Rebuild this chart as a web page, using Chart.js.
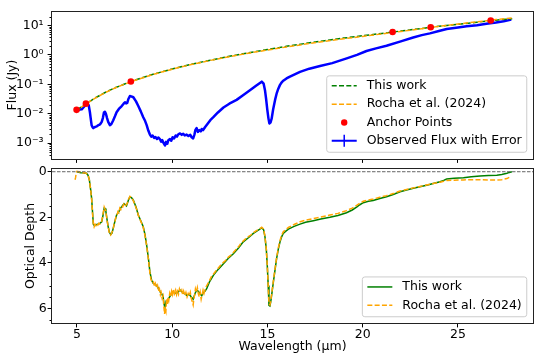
<!DOCTYPE html>
<html><head><meta charset="utf-8">
<script src="https://cdn.jsdelivr.net/npm/chart.js@4.4.1/dist/chart.umd.min.js"></script>
<style>
html,body{margin:0;padding:0;background:#fff;width:540px;height:360px;overflow:hidden}
#c1{position:absolute;left:0;top:0}
#c2{position:absolute;left:0;top:160px}
</style></head><body>
<canvas id="c1" width="540" height="170"></canvas>
<canvas id="c2" width="540" height="200"></canvas>
<script>
// ---------- DATA ----------
const wlTicks = [5, 10, 15, 20, 25];
const fluxTicks = [1e-3, 1e-2, 1e-1, 1, 10];
const fluxTickLabels = ['10⁻³', '10⁻²', '10⁻¹', '10⁰', '10¹'];
const tauTicks = [0, 2, 4, 6];

// continuum (Jy)
const contWl = [4.9,5.0,5.5,6.0,6.5,7.0,7.5,8.0,9.0,10.0,11.0,12.0,13.0,14.0,15.0,16.0,17.0,18.0,19.0,20.0,21.0,22.0,23.0,24.0,25.0,26.0,27.0,27.85];
const contThisWork = [null,0.0135,0.0224,0.0355,0.0537,0.0759,0.102,0.135,0.219,0.331,0.479,0.661,0.891,1.175,1.514,1.95,2.455,3.02,3.715,4.467,5.37,6.457,7.762,9.333,10.96,12.88,15.14,17.0];
const contRocha = [0.0118,0.0133,0.0221,0.035,0.053,0.075,0.101,0.134,0.216,0.326,0.470,0.648,0.870,1.14,1.46,1.86,2.33,2.86,3.52,4.25,5.15,6.25,7.6,9.3,11.2,13.3,15.8,17.9];

// anchor points
const anchorWl = [4.98, 5.47, 7.83, 21.57, 23.57, 26.72];
const anchorFlux = [0.0135, 0.022, 0.125, 6.0, 8.7, 14.8];

// observed flux (Jy)
const obsWl = [4.95,5.05,5.15,5.25,5.35,5.47,5.55,5.62,5.68,5.73,5.77,5.82,5.86,5.92,6.0,6.06,6.12,6.2,6.25,6.3,6.36,6.42,6.47,6.52,6.58,6.64,6.73,6.8,6.9,7.0,7.08,7.2,7.35,7.45,7.52,7.58,7.64,7.7,7.78,7.85,7.96,8.1,8.22,8.35,8.48,8.58,8.66,8.75,8.83,8.9,8.97,9.05,9.12,9.2,9.28,9.36,9.42,9.48,9.55,9.62,9.68,9.74,9.8,9.88,9.95,10.02,10.1,10.18,10.25,10.32,10.41,10.5,10.58,10.66,10.76,10.85,10.95,11.02,11.1,11.17,11.22,11.28,11.35,11.42,11.5,11.55,11.62,11.72,11.85,12.0,12.16,12.4,12.69,13.0,13.38,13.7,14.08,14.4,14.7,14.8,14.87,14.93,14.99,15.05,15.1,15.16,15.22,15.3,15.4,15.48,15.57,15.66,15.75,15.83,16.0,16.18,16.71,17.2,17.76,18.4,19.16,19.7,20.2,20.7,21.25,22.0,22.65,23.1,23.53,24.0,24.41,25.0,25.46,26.0,26.5,27.0,27.4,27.8];
const obsFlux = [0.0126,0.0132,0.0138,0.0141,0.0166,0.0204,0.0214,0.0191,0.0112,0.0063,0.00407,0.00347,0.00324,0.00347,0.00363,0.0038,0.00407,0.00427,0.00468,0.00525,0.00708,0.0112,0.0117,0.01,0.00708,0.00525,0.00407,0.00437,0.00589,0.00832,0.0112,0.0145,0.0182,0.0219,0.0245,0.0224,0.0234,0.0316,0.0398,0.0389,0.0363,0.0263,0.0182,0.012,0.00759,0.00562,0.00407,0.00263,0.00195,0.00166,0.00182,0.00151,0.00162,0.00138,0.00155,0.00135,0.00112,0.00126,0.001,0.00083,0.0011,0.00095,0.00126,0.00138,0.0012,0.00158,0.00145,0.00182,0.00166,0.002,0.00214,0.00191,0.00209,0.00182,0.00195,0.00174,0.00191,0.00158,0.00145,0.002,0.00282,0.00324,0.0024,0.00275,0.00251,0.00302,0.00275,0.00347,0.00447,0.00603,0.00759,0.011,0.0162,0.0219,0.0295,0.0417,0.0631,0.0891,0.123,0.105,0.0631,0.0316,0.0141,0.00708,0.00468,0.00501,0.00676,0.0141,0.0295,0.0479,0.0708,0.0955,0.117,0.132,0.158,0.182,0.263,0.339,0.417,0.525,0.759,1.0,1.35,1.66,2.04,2.88,3.89,4.68,5.37,6.46,7.59,8.51,9.33,10.2,11.5,12.6,13.8,15.8];

// optical depth, this work
const tauWlThis = [5.0,5.1,5.2,5.3,5.4,5.5,5.58,5.65,5.72,5.77,5.82,5.86,5.92,6.0,6.1,6.2,6.3,6.36,6.43,6.48,6.52,6.58,6.64,6.7,6.77,6.84,6.9,7.0,7.08,7.2,7.29,7.38,7.47,7.54,7.6,7.7,7.78,7.87,7.96,8.1,8.22,8.35,8.48,8.57,8.66,8.75,8.83,8.92,9.0,9.1,9.18,9.3,9.38,9.45,9.52,9.58,9.62,9.68,9.74,9.8,9.9,10.05,10.2,10.3,10.41,10.55,10.65,10.76,10.9,11.0,11.1,11.2,11.28,11.37,11.45,11.55,11.65,11.72,11.81,11.95,12.16,12.4,12.69,12.95,13.21,13.48,13.73,14.0,14.26,14.5,14.7,14.8,14.87,14.94,14.99,15.04,15.08,15.13,15.17,15.24,15.31,15.4,15.48,15.57,15.66,15.75,15.83,15.95,16.1,16.4,16.71,17.0,17.41,17.8,18.28,18.7,19.15,19.45,19.68,19.85,20.03,20.3,20.55,20.9,21.25,21.6,21.96,22.3,22.66,23.0,23.36,23.7,24.06,24.25,24.41,24.8,25.29,25.7,26.16,26.6,27.04,27.3,27.57,27.7,27.83];
const tauThis = [0.0,0.02,0.04,0.05,0.06,0.07,0.15,0.35,0.8,1.17,1.8,2.3,2.38,2.33,2.3,2.27,2.2,1.95,1.6,1.62,1.76,2.1,2.42,2.65,2.76,2.7,2.5,2.15,1.9,1.75,1.6,1.5,1.4,1.45,1.5,1.25,1.1,1.15,1.25,1.55,1.9,2.15,2.42,2.75,3.23,3.8,4.4,4.77,4.9,4.95,5.0,5.15,5.3,5.36,5.5,5.85,5.95,5.7,5.75,5.58,5.45,5.29,5.35,5.3,5.2,5.3,5.35,5.43,5.38,5.5,5.6,5.35,5.2,5.25,5.35,5.45,5.3,5.25,5.14,4.85,4.55,4.3,4.04,3.8,3.6,3.35,3.08,2.9,2.71,2.58,2.47,2.55,2.86,3.4,4.11,5.0,5.87,5.9,5.73,5.3,4.85,4.3,3.82,3.4,3.08,2.85,2.71,2.62,2.52,2.4,2.3,2.22,2.15,2.08,2.0,1.92,1.8,1.68,1.55,1.45,1.36,1.3,1.26,1.18,1.1,1.0,0.88,0.8,0.73,0.66,0.59,0.52,0.44,0.38,0.32,0.29,0.26,0.22,0.19,0.17,0.15,0.12,0.07,0.03,0.0];

// optical depth, Rocha et al. (2024)
const tauWlRocha = [4.9,4.93,4.96,5.0,5.1,5.2,5.3,5.4,5.5,5.58,5.65,5.72,5.77,5.82,5.86,5.9,5.95,6.0,6.05,6.1,6.15,6.2,6.25,6.3,6.36,6.43,6.48,6.52,6.58,6.64,6.7,6.77,6.84,6.9,6.95,7.0,7.05,7.1,7.15,7.2,7.25,7.3,7.35,7.4,7.47,7.54,7.6,7.65,7.7,7.78,7.84,7.9,7.96,8.05,8.1,8.16,8.22,8.3,8.35,8.42,8.48,8.57,8.66,8.75,8.83,8.88,8.92,8.97,9.02,9.07,9.12,9.18,9.23,9.28,9.33,9.38,9.42,9.47,9.52,9.56,9.6,9.63,9.67,9.7,9.74,9.78,9.82,9.87,9.92,9.97,10.02,10.07,10.12,10.18,10.23,10.28,10.33,10.38,10.44,10.5,10.55,10.6,10.66,10.72,10.78,10.84,10.9,10.95,11.0,11.05,11.1,11.14,11.18,11.22,11.27,11.32,11.37,11.42,11.47,11.52,11.57,11.62,11.67,11.72,11.78,11.85,11.95,12.05,12.16,12.3,12.4,12.55,12.69,12.8,12.95,13.1,13.21,13.35,13.48,13.6,13.73,13.85,14.0,14.13,14.26,14.4,14.5,14.6,14.7,14.8,14.87,14.94,14.99,15.04,15.08,15.13,15.17,15.24,15.31,15.4,15.48,15.57,15.66,15.75,15.83,15.95,16.1,16.4,16.71,17.0,17.41,17.8,18.28,18.7,19.15,19.45,19.68,19.85,20.03,20.3,20.55,20.9,21.25,21.6,21.96,22.3,22.66,23.0,23.36,23.7,24.06,24.25,24.41,24.8,25.29,25.7,26.16,26.6,27.04,27.3,27.57,27.75];
const tauRocha = [0.35,0.25,0.05,-0.02,0.0,0.03,0.06,0.04,0.08,0.15,0.36,0.8,1.2,1.85,2.3,2.42,2.3,2.36,2.28,2.34,2.26,2.3,2.22,2.18,1.9,1.55,1.66,1.72,2.15,2.4,2.7,2.78,2.66,2.52,2.3,2.18,1.95,1.92,1.75,1.8,1.6,1.66,1.52,1.55,1.38,1.48,1.45,1.35,1.22,1.08,1.12,1.16,1.28,1.45,1.58,1.7,1.92,2.05,2.18,2.3,2.45,2.8,3.25,3.85,4.45,4.7,4.8,4.9,4.85,5.05,4.92,5.1,5.0,5.25,5.15,5.4,5.3,5.55,5.45,5.9,6.25,5.95,6.1,5.6,5.85,5.5,5.65,5.35,5.5,5.25,5.4,5.15,5.35,5.2,5.4,5.25,5.38,5.15,5.3,5.2,5.4,5.25,5.45,5.3,5.5,5.35,5.45,5.3,5.55,5.7,5.85,5.55,5.4,5.15,5.3,5.1,5.35,5.5,5.3,5.6,5.4,5.2,5.35,5.2,5.05,4.95,4.8,4.62,4.5,4.35,4.25,4.1,3.98,3.9,3.75,3.65,3.55,3.42,3.3,3.15,3.04,2.95,2.85,2.78,2.68,2.6,2.55,2.5,2.44,2.52,2.85,3.4,4.1,5.0,5.8,5.85,5.7,5.25,4.8,4.25,3.78,3.35,3.02,2.78,2.64,2.55,2.45,2.32,2.2,2.13,2.06,1.99,1.9,1.83,1.71,1.6,1.48,1.38,1.3,1.24,1.2,1.12,1.05,0.96,0.85,0.78,0.71,0.65,0.58,0.52,0.46,0.42,0.38,0.37,0.36,0.35,0.35,0.36,0.36,0.35,0.3,0.22];

// ---------- HELPERS ----------
const FONT = "'DejaVu Sans'";
Chart.defaults.font.family = FONT;
Chart.defaults.font.size = 12.5;
Chart.defaults.color = '#000';
const pts = (xs, ys) => xs.map((x, i) => ({x, y: ys[i]})).filter(p => p.y !== null);
const DASH = [5, 2.3];

const framePlugin = {
  id: 'frame',
  afterDraw(chart, args, o) {
    const {ctx, chartArea: a} = chart;
    const ys = chart.scales.y;
    ctx.save();
    ctx.strokeStyle = '#000';
    ctx.lineWidth = 1;
    (o.minor || []).forEach(v => {
      const p = Math.round(ys.getPixelForValue(v)) + 0.5;
      ctx.beginPath(); ctx.moveTo(a.left - 2.5, p); ctx.lineTo(a.left, p); ctx.stroke();
    });
    if (o.zeroLine) {
      const p = ys.getPixelForValue(0);
      ctx.strokeStyle = '#666';
      ctx.setLineDash([3.5, 1.5]);
      ctx.beginPath(); ctx.moveTo(a.left, p); ctx.lineTo(a.right, p); ctx.stroke();
      ctx.setLineDash([]);
    }
    ctx.strokeStyle = '#222';
    ctx.strokeRect(Math.round(a.left) - 0.5, Math.round(a.top) - 0.5, Math.round(a.right - a.left) + 1, Math.round(a.bottom - a.top) + 1);
    ctx.restore();
  }
};

const legendPlugin = {
  id: 'mplLegend',
  afterDraw(chart, args, o) {
    const items = o.items || [];
    const {ctx, chartArea: a} = chart;
    ctx.save();
    ctx.font = '12.5px ' + FONT;
    const tw = Math.max(...items.map(it => ctx.measureText(it.label).width));
    const bp = 5, hl = 25, htp = 10, rowH = 18.3;
    const w = bp + hl + htp + tw + bp;
    const h = 10 + (items.length - 1) * rowH + 11.5;
    const right = a.right - 6.25, bottom = a.bottom - 6.25;
    const left = right - w, top = bottom - h;
    ctx.beginPath();
    ctx.roundRect(left, top, w, h, 2.5);
    ctx.fillStyle = 'rgba(255,255,255,0.8)';
    ctx.fill();
    ctx.strokeStyle = '#cccccc';
    ctx.lineWidth = 1;
    ctx.stroke();
    items.forEach((it, i) => {
      const cy = top + 10 + i * rowH;
      const x0 = left + bp, x1 = x0 + hl;
      ctx.strokeStyle = it.color;
      ctx.fillStyle = it.color;
      if (it.kind === 'dash' || it.kind === 'line' || it.kind === 'err') {
        ctx.lineWidth = it.kind === 'err' ? 2 : 1.5;
        ctx.setLineDash(it.kind === 'dash' ? DASH : []);
        ctx.beginPath(); ctx.moveTo(x0, cy); ctx.lineTo(x1, cy); ctx.stroke();
        ctx.setLineDash([]);
        if (it.kind === 'err') {
          ctx.lineWidth = 1.5;
          ctx.beginPath(); ctx.moveTo((x0 + x1) / 2, cy - 6); ctx.lineTo((x0 + x1) / 2, cy + 6); ctx.stroke();
        }
      } else if (it.kind === 'point') {
        ctx.beginPath(); ctx.arc((x0 + x1) / 2, cy, 3.2, 0, Math.PI * 2); ctx.fill();
      }
      ctx.fillStyle = '#000';
      ctx.textBaseline = 'middle';
      ctx.textAlign = 'left';
      ctx.fillText(it.label, x1 + htp, cy);
    });
    ctx.restore();
  }
};

const gridOpts = {drawOnChartArea: false, tickLength: 4.4, tickColor: '#000', tickWidth: 1, drawTicks: true};

// ---------- TOP CHART ----------
const minorFlux = [];
[-4, -3, -2, -1, 0, 1].forEach(k => { for (let m = 2; m <= 9; m++) { const v = m * Math.pow(10, k); if (v > 3.46e-4 && v < 29.8) minorFlux.push(v); } });

new Chart(document.getElementById('c1'), {
  type: 'line',
  data: {
    datasets: [
      {label: 'Anchor Points', data: pts(anchorWl, anchorFlux), showLine: false, pointRadius: 3.3, pointBackgroundColor: 'red', pointBorderWidth: 0, borderColor: 'red', order: 0},
      {label: 'Rocha et al. (2024)', data: pts(contWl, contRocha), borderColor: 'orange', borderWidth: 1.5, borderDash: DASH, pointRadius: 0, order: 1},
      {label: 'This work', data: pts(contWl, contThisWork), borderColor: 'green', borderWidth: 1.5, borderDash: DASH, pointRadius: 0, order: 2},
      {label: 'Observed Flux with Error', data: pts(obsWl, obsFlux), borderColor: 'blue', borderWidth: 2.5, pointRadius: 0, borderJoinStyle: 'round', order: 3}
    ]
  },
  options: {
    responsive: false, animation: false, events: [],
    layout: {padding: {top: 7, right: 7, left: 0, bottom: 0}},
    plugins: {
      legend: {display: false}, tooltip: {enabled: false},
      frame: {minor: minorFlux},
      mplLegend: {items: [
        {label: 'This work', kind: 'dash', color: 'green'},
        {label: 'Rocha et al. (2024)', kind: 'dash', color: 'orange'},
        {label: 'Anchor Points', kind: 'point', color: 'red'},
        {label: 'Observed Flux with Error', kind: 'err', color: 'blue'}
      ]}
    },
    scales: {
      x: {type: 'linear', min: 3.69, max: 28.94,
          afterBuildTicks: s => { s.ticks = wlTicks.map(v => ({value: v})); },
          ticks: {display: false}, grid: gridOpts, border: {display: false},
          afterFit: s => { s.height = 10; }},
      y: {type: 'logarithmic', min: 3.46e-4, max: 29.8,
          afterBuildTicks: s => { s.ticks = fluxTicks.map(v => ({value: v})); },
          ticks: {callback: v => { const i = fluxTicks.indexOf(v); return i >= 0 ? fluxTickLabels[i] : ''; }, padding: 4, autoSkip: false},
          grid: gridOpts, border: {display: false},
          title: {display: true, text: 'Flux (Jy)', padding: {top: 5.5, bottom: 0}},
          afterFit: s => { s.width = 52; }}
    }
  },
  plugins: [framePlugin, legendPlugin]
});

// ---------- BOTTOM CHART ----------
const minorTau = [0.5, 1, 1.5, 2.5, 3, 3.5, 4.5, 5, 5.5, 6.5];
new Chart(document.getElementById('c2'), {
  type: 'line',
  data: {
    datasets: [
      {label: 'Rocha et al. (2024)', data: pts(tauWlRocha, tauRocha), borderColor: 'orange', borderWidth: 1.5, borderDash: DASH, pointRadius: 0, order: 0},
      {label: 'This work', data: pts(tauWlThis, tauThis), borderColor: 'green', borderWidth: 1.5, pointRadius: 0, order: 1}
    ]
  },
  options: {
    responsive: false, animation: false, events: [],
    layout: {padding: {top: 9, right: 7, left: 0, bottom: 0}},
    plugins: {
      legend: {display: false}, tooltip: {enabled: false},
      frame: {minor: minorTau, zeroLine: true},
      mplLegend: {items: [
        {label: 'This work', kind: 'line', color: 'green'},
        {label: 'Rocha et al. (2024)', kind: 'dash', color: 'orange'}
      ]}
    },
    scales: {
      x: {type: 'linear', min: 3.69, max: 28.94,
          afterBuildTicks: s => { s.ticks = wlTicks.map(v => ({value: v})); },
          ticks: {padding: 0, maxRotation: 0, autoSkip: false},
          grid: gridOpts, border: {display: false},
          title: {display: true, text: 'Wavelength (µm)', padding: {top: 0, bottom: 5.5}},
          afterFit: s => { s.height = 37; }},
      y: {type: 'linear', reverse: true, min: -0.12, max: 6.645,
          afterBuildTicks: s => { s.ticks = tauTicks.map(v => ({value: v})); },
          ticks: {padding: 1, autoSkip: false},
          grid: gridOpts, border: {display: false},
          title: {display: true, text: 'Optical Depth', padding: {top: 23, bottom: 0}},
          afterFit: s => { s.width = 52; }}
    }
  },
  plugins: [framePlugin, legendPlugin]
});
</script></body></html>
